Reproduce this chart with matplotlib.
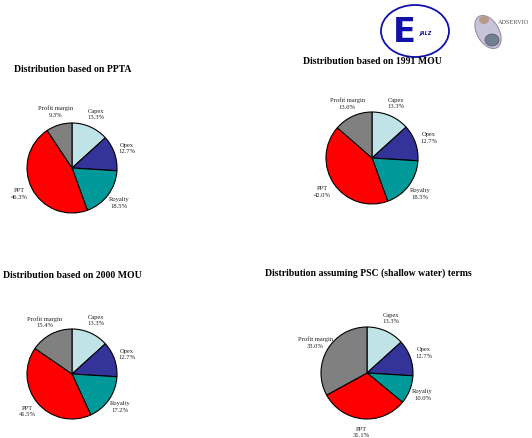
import matplotlib
matplotlib.use("Agg")
import matplotlib.pyplot as plt
from matplotlib.patches import Ellipse
import numpy as np

categories = ["Capex", "Opex", "Royalty", "PPT", "Profit margin"]
colors = ["#BFE3E6", "#333399", "#009999", "#FF0000", "#808080"]

titles = ["Distribution based on PPTA",
          "Distribution based on 1991 MOU",
          "Distribution based on 2000 MOU",
          "Distribution assuming PSC (shallow water) terms"]
vals_ppta = [13.3, 12.7, 18.5, 46.3, 9.3]
vals_1991 = [13.3, 12.7, 18.5, 42.0, 13.6]
vals_2000 = [13.3, 12.7, 17.2, 41.5, 15.4]
vals_psc = [13.3, 12.7, 10.0, 31.1, 33.0]
all_vals = [vals_ppta, vals_1991, vals_2000, vals_psc]

W, H = 532, 438
fig = plt.figure(figsize=(W / 100, H / 100), dpi=100)
plt.rcParams['font.family'] = ['Liberation Serif', 'DejaVu Serif']

# pixel layout: (center x, center y, radius), title (x, y)
centers = [(72, 168, 45), (372, 158, 46), (72, 374, 45), (367, 373, 46)]
title_pos = [(14, 70), (303, 61), (3, 275), (265, 273)]

for vals, title, (cx, cy, r), (tx, ty) in zip(all_vals, titles, centers, title_pos):
    half = 1.5 * r
    ax = fig.add_axes([(cx - half) / W, 1 - (cy + half) / H, 2 * half / W, 2 * half / H])
    labels = [f"{c}\n{v:.1f}%" for c, v in zip(categories, vals)]
    wedges, texts = ax.pie(vals, colors=colors, startangle=90, counterclock=False,
                           labels=labels, labeldistance=1.3,
                           wedgeprops=dict(edgecolor="black", linewidth=0.8),
                           textprops=dict(fontsize=4.7, color="#222222"))
    for t in texts:
        t.set_ha("center")
        t.set_va("center")
        t.set_linespacing(1.4)
    ax.set_xlim(-1.5, 1.5)
    ax.set_ylim(-1.5, 1.5)
    ax.set_aspect("equal")
    ax.axis("off")
    fig.text(tx / W, 1 - ty / H, title, fontsize=7, fontweight="bold",
             ha="left", va="center", color="black")

# logos
lax = fig.add_axes([0, 0, 1, 1], zorder=-1)
lax.set_xlim(0, W)
lax.set_ylim(H, 0)
lax.axis("off")
lax.add_patch(Ellipse((415, 31), 68, 52, fill=False, edgecolor="#1111AA", linewidth=1.3))
lax.text(404, 33, "E", fontsize=24, fontweight="bold", color="#1111AA",
         ha="center", va="center", family="DejaVu Sans")
lax.text(426, 33, "JALZ", fontsize=3.5, fontweight="bold", style="italic", color="#1111AA",
         ha="center", va="center", family="DejaVu Sans")
lax.add_patch(Ellipse((488, 32), 22, 36, angle=-30, facecolor="#C8C4D8", edgecolor="#9A8FA8", linewidth=0.8))
lax.add_patch(Ellipse((492, 40), 14, 12, facecolor="#6F7F8F", edgecolor="#555566", linewidth=0.5))
lax.add_patch(Ellipse((484, 20), 10, 8, facecolor="#B89A8A", edgecolor="none"))
lax.text(514, 22, "ADSERVIO", fontsize=4.5, color="#555555", ha="center", va="center")

fig.savefig("out.png", dpi=100, facecolor="white")
